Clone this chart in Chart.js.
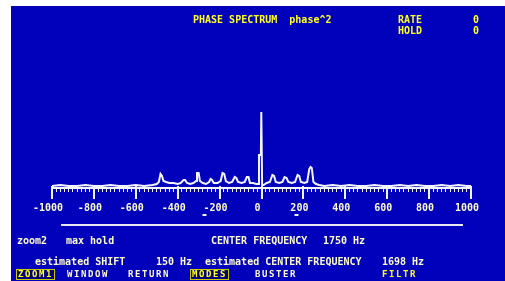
<!DOCTYPE html>
<html>
<head>
<meta charset="utf-8">
<script src="https://cdn.jsdelivr.net/npm/chart.js@4"></script>
<style>
  body { margin: 0; background: #fff; width: 505px; height: 281px; overflow: hidden; }
  #panel { position: absolute; left: 11px; top: 6px; width: 494px; height: 275px; background: #0101bb; }
  #wrap { position: absolute; left: 0; top: 0; width: 494px; height: 224px; }
  .t { position: absolute; font: bold 10px "DejaVu Sans Mono", monospace; line-height: 10px; color: #fdfbc8; white-space: pre; }
  .y { color: #ffff20; }
  .m { font-size: 9px; letter-spacing: 1.6px; line-height: 9px; }
  .box { background: #00007a; outline: 1px solid #c8c800; padding: 0 1px; }
  #rule { position: absolute; left: 50px; top: 218px; width: 402px; height: 2px; background: #e8e8f0; }
</style>
</head>
<body>
<div id="panel">
  <div id="wrap"><canvas id="chart"></canvas></div>
  <div id="rule"></div>
</div>
<script>
// spectrum trace: frequency offset (Hz) and amplitude (screen units)
const freqs = [-1000, -960, -920, -880, -840, -800, -760, -720, -680, -640, -600, -560, -520,
  -500, -490, -482, -475, -468, -455, -440, -420, -400, -385, -372, -365, -355, -340, -325,
  -312, -308, -300, -294, -280, -265, -250, -243, -236, -228, -210, -195, -186, -178, -170,
  -155, -140, -128, -120, -112, -95, -80, -70, -62, -55, -40, -25, -14, -12, -3, -1, 1, 3,
  10, 25, 40, 52, 60, 68, 85, 100, 110, 120, 128, 145, 160, 172, 180, 188, 205, 218, 228,
  234, 240, 248, 260, 275, 300, 340, 380, 420, 460, 500, 540, 580, 620, 660, 700, 740, 780,
  820, 860, 900, 940, 980, 1000]
const amps = [2, 3, 2, 2, 3, 2, 2, 3, 2, 2, 3, 2, 3,
  4, 6, 14, 12, 7, 6, 5, 5, 4, 5, 8, 8, 5, 4, 5,
  7, 15, 15, 7, 5, 4, 6, 9, 8, 5, 5, 7, 15, 14, 7,
  5, 6, 11, 10, 6, 5, 6, 11, 11, 5, 5, 4, 4, 33, 33, 76, 76, 3,
  3, 5, 6, 13, 12, 6, 5, 6, 11, 10, 6, 5, 6, 13, 12, 6, 5, 6, 19,
  21, 20, 6, 4, 3, 2, 3, 2, 3, 2, 2, 3, 2, 2, 3, 2, 3, 2,
  2, 3, 2, 3, 2, 2]
const tickLabels = [-1000, -800, -600, -400, -200, 0, 200, 400, 600, 800, 1000]
const markerFreqs = [-272, 167]

const white = '#f4f4ff'
const pale = '#fdfbc8'

const majorTicks = {
  id: 'majorTicks',
  afterDraw(chart) {
    const ctx = chart.ctx
    const x = chart.scales.x
    const bottom = chart.chartArea.bottom
    ctx.save()
    ctx.strokeStyle = white
    ctx.lineWidth = 2
    tickLabels.forEach(v => {
      const px = Math.round(x.getPixelForValue(v))
      ctx.beginPath()
      ctx.moveTo(px, bottom - 2)
      ctx.lineTo(px, bottom + 11)
      ctx.stroke()
    })
    ctx.fillStyle = white
    markerFreqs.forEach(v => {
      const px = x.getPixelForValue(v)
      ctx.fillRect(px - 2, bottom + 26, 4, 2)
    })
    ctx.restore()
  }
}

new Chart(document.getElementById('chart'), {
  type: 'line',
  data: {
    datasets: [{
      data: freqs.map((f, i) => ({ x: f, y: amps[i] })),
      borderColor: white,
      borderWidth: 2,
      pointRadius: 0,
      tension: 0
    }]
  },
  options: {
    animation: false,
    responsive: true,
    maintainAspectRatio: false,
    layout: { padding: { left: 41, right: 34, top: 102, bottom: 0 } },
    plugins: { legend: { display: false }, tooltip: { enabled: false } },
    scales: {
      x: {
        type: 'linear',
        min: -1000,
        max: 1000,
        afterFit: s => { s.height = 42 },
        border: { color: white, width: 2 },
        grid: { drawOnChartArea: false, color: white, lineWidth: 1, tickLength: 4 },
        ticks: {
          stepSize: 20,
          autoSkip: false,
          maxRotation: 0,
          padding: 10,
          labelOffset: -4,
          color: pale,
          font: { family: 'DejaVu Sans Mono', size: 10, weight: 'bold' },
          callback: v => (tickLabels.includes(v) ? String(v) : '')
        }
      },
      y: { display: false, min: 0, max: 80 }
    }
  },
  plugins: [majorTicks]
})

const texts = [
  ['PHASE SPECTRUM  phase^2', 182, 9, 't y'],
  ['RATE', 387, 9, 't y'],
  ['0', 462, 9, 't y'],
  ['HOLD', 387, 20, 't y'],
  ['0', 462, 20, 't y'],
  ['zoom2', 6, 230, 't'],
  ['max hold', 55, 230, 't'],
  ['CENTER FREQUENCY', 200, 230, 't'],
  ['1750 Hz', 312, 230, 't'],
  ['estimated SHIFT', 24, 251, 't'],
  ['150 Hz', 145, 251, 't'],
  ['estimated CENTER FREQUENCY', 194, 251, 't'],
  ['1698 Hz', 371, 251, 't'],
  ['ZOOM1', 6, 264, 't m y box'],
  ['WINDOW', 56, 264, 't m'],
  ['RETURN', 117, 264, 't m'],
  ['MODES', 180, 264, 't m y box'],
  ['BUSTER', 244, 264, 't m'],
  ['FILTR', 371, 264, 't m y']
]
const panel = document.getElementById('panel')
texts.forEach(([s, l, t, c]) => {
  const d = document.createElement('div')
  d.className = c
  d.style.left = l + 'px'
  d.style.top = t + 'px'
  d.textContent = s
  panel.appendChild(d)
})
</script>
</body>
</html>
